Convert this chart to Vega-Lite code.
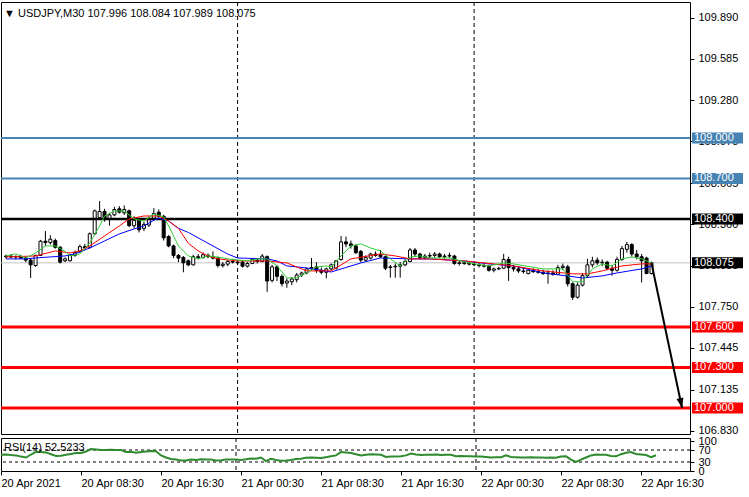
{
"$schema":"https://vega.github.io/schema/vega-lite/v6.json",
"background":"#ffffff",
"padding":{"left":0,"top":1,"right":0,"bottom":0},
"bounds":"flush",
"spacing":4,
"config":{
"view":{"stroke":"#000000","strokeWidth":1},
"axis":{"labelFont":"Liberation Sans","labelFontSize":11,"labelColor":"#000000","tickColor":"#000000","domain":false,"grid":false},
"title":{"font":"Liberation Sans","fontSize":11,"fontWeight":"normal","color":"#000000","anchor":"start","frame":"group"}
},
"datasets":{
"bars":[
{"t":"2021-04-20T00:30","o":108.120,"h":108.135,"l":108.105,"c":108.125,"r":54},
{"t":"2021-04-20T01:00","o":108.125,"h":108.140,"l":108.110,"c":108.118,"r":55},
{"t":"2021-04-20T01:30","o":108.118,"h":108.130,"l":108.100,"c":108.122,"r":53},
{"t":"2021-04-20T02:00","o":108.122,"h":108.135,"l":108.105,"c":108.110,"r":52},
{"t":"2021-04-20T02:30","o":108.110,"h":108.120,"l":108.080,"c":108.095,"r":48},
{"t":"2021-04-20T03:00","o":108.095,"h":108.105,"l":107.963,"c":108.060,"r":45},
{"t":"2021-04-20T03:30","o":108.055,"h":108.135,"l":108.045,"c":108.130,"r":55},
{"t":"2021-04-20T04:00","o":108.130,"h":108.245,"l":108.125,"c":108.235,"r":64},
{"t":"2021-04-20T04:30","o":108.235,"h":108.310,"l":108.200,"c":108.225,"r":63},
{"t":"2021-04-20T05:00","o":108.225,"h":108.280,"l":108.210,"c":108.250,"r":62},
{"t":"2021-04-20T05:30","o":108.240,"h":108.255,"l":108.180,"c":108.190,"r":56},
{"t":"2021-04-20T06:00","o":108.190,"h":108.200,"l":108.070,"c":108.080,"r":50},
{"t":"2021-04-20T06:30","o":108.090,"h":108.115,"l":108.080,"c":108.105,"r":51},
{"t":"2021-04-20T07:00","o":108.090,"h":108.140,"l":108.085,"c":108.130,"r":54},
{"t":"2021-04-20T07:30","o":108.130,"h":108.165,"l":108.120,"c":108.150,"r":57},
{"t":"2021-04-20T08:00","o":108.160,"h":108.210,"l":108.150,"c":108.195,"r":60},
{"t":"2021-04-20T08:30","o":108.195,"h":108.215,"l":108.175,"c":108.185,"r":60},
{"t":"2021-04-20T09:00","o":108.190,"h":108.300,"l":108.180,"c":108.290,"r":65},
{"t":"2021-04-20T09:30","o":108.290,"h":108.470,"l":108.280,"c":108.460,"r":73},
{"t":"2021-04-20T10:00","o":108.410,"h":108.533,"l":108.400,"c":108.455,"r":72},
{"t":"2021-04-20T10:30","o":108.455,"h":108.475,"l":108.380,"c":108.400,"r":70},
{"t":"2021-04-20T11:00","o":108.395,"h":108.445,"l":108.350,"c":108.430,"r":70},
{"t":"2021-04-20T11:30","o":108.430,"h":108.490,"l":108.420,"c":108.470,"r":71},
{"t":"2021-04-20T12:00","o":108.475,"h":108.495,"l":108.440,"c":108.450,"r":70},
{"t":"2021-04-20T12:30","o":108.445,"h":108.500,"l":108.430,"c":108.470,"r":70},
{"t":"2021-04-20T13:00","o":108.460,"h":108.470,"l":108.340,"c":108.350,"r":63},
{"t":"2021-04-20T13:30","o":108.350,"h":108.420,"l":108.330,"c":108.390,"r":64},
{"t":"2021-04-20T14:00","o":108.400,"h":108.410,"l":108.300,"c":108.320,"r":61},
{"t":"2021-04-20T14:30","o":108.330,"h":108.380,"l":108.310,"c":108.360,"r":63},
{"t":"2021-04-20T15:00","o":108.355,"h":108.420,"l":108.340,"c":108.400,"r":65},
{"t":"2021-04-20T15:30","o":108.400,"h":108.480,"l":108.390,"c":108.440,"r":67},
{"t":"2021-04-20T16:00","o":108.450,"h":108.470,"l":108.400,"c":108.420,"r":66},
{"t":"2021-04-20T16:30","o":108.420,"h":108.430,"l":108.240,"c":108.260,"r":52},
{"t":"2021-04-20T17:00","o":108.270,"h":108.280,"l":108.190,"c":108.200,"r":45},
{"t":"2021-04-20T17:30","o":108.200,"h":108.210,"l":108.110,"c":108.130,"r":40},
{"t":"2021-04-20T18:00","o":108.130,"h":108.140,"l":108.080,"c":108.110,"r":38},
{"t":"2021-04-20T18:30","o":108.115,"h":108.125,"l":108.005,"c":108.075,"r":35},
{"t":"2021-04-20T19:00","o":108.090,"h":108.100,"l":108.050,"c":108.060,"r":35},
{"t":"2021-04-20T19:30","o":108.060,"h":108.135,"l":108.055,"c":108.120,"r":38},
{"t":"2021-04-20T20:00","o":108.120,"h":108.140,"l":108.100,"c":108.115,"r":37},
{"t":"2021-04-20T20:30","o":108.115,"h":108.150,"l":108.105,"c":108.135,"r":39},
{"t":"2021-04-20T21:00","o":108.130,"h":108.145,"l":108.110,"c":108.120,"r":38},
{"t":"2021-04-20T21:30","o":108.120,"h":108.160,"l":108.100,"c":108.110,"r":38},
{"t":"2021-04-20T22:00","o":108.110,"h":108.120,"l":108.040,"c":108.055,"r":35},
{"t":"2021-04-20T22:30","o":108.055,"h":108.080,"l":108.040,"c":108.065,"r":36},
{"t":"2021-04-20T23:00","o":108.065,"h":108.095,"l":108.050,"c":108.085,"r":38},
{"t":"2021-04-20T23:30","o":108.085,"h":108.100,"l":108.070,"c":108.080,"r":38},
{"t":"2021-04-21T00:00","o":108.080,"h":108.095,"l":108.060,"c":108.075,"r":38},
{"t":"2021-04-21T00:30","o":108.080,"h":108.095,"l":108.040,"c":108.050,"r":37},
{"t":"2021-04-21T01:00","o":108.050,"h":108.080,"l":108.040,"c":108.070,"r":39},
{"t":"2021-04-21T01:30","o":108.070,"h":108.110,"l":108.065,"c":108.100,"r":42},
{"t":"2021-04-21T02:00","o":108.095,"h":108.110,"l":108.070,"c":108.085,"r":41},
{"t":"2021-04-21T02:30","o":108.085,"h":108.140,"l":108.080,"c":108.125,"r":45},
{"t":"2021-04-21T03:00","o":108.120,"h":108.130,"l":107.860,"c":107.940,"r":33},
{"t":"2021-04-21T03:30","o":107.945,"h":108.060,"l":107.930,"c":108.045,"r":41},
{"t":"2021-04-21T04:00","o":108.045,"h":108.060,"l":107.940,"c":107.975,"r":37},
{"t":"2021-04-21T04:30","o":107.975,"h":107.990,"l":107.900,"c":107.920,"r":34},
{"t":"2021-04-21T05:00","o":107.925,"h":107.960,"l":107.890,"c":107.940,"r":35},
{"t":"2021-04-21T05:30","o":107.935,"h":107.970,"l":107.910,"c":107.955,"r":37},
{"t":"2021-04-21T06:00","o":107.950,"h":108.000,"l":107.930,"c":107.985,"r":40},
{"t":"2021-04-21T06:30","o":107.985,"h":108.010,"l":107.970,"c":108.000,"r":41},
{"t":"2021-04-21T07:00","o":108.000,"h":108.040,"l":107.990,"c":108.030,"r":44},
{"t":"2021-04-21T07:30","o":108.030,"h":108.110,"l":108.020,"c":108.040,"r":45},
{"t":"2021-04-21T08:00","o":108.045,"h":108.080,"l":108.000,"c":108.020,"r":44},
{"t":"2021-04-21T08:30","o":108.020,"h":108.040,"l":107.990,"c":108.005,"r":43},
{"t":"2021-04-21T09:00","o":108.005,"h":108.040,"l":107.960,"c":108.030,"r":46},
{"t":"2021-04-21T09:30","o":108.030,"h":108.070,"l":108.020,"c":108.060,"r":49},
{"t":"2021-04-21T10:00","o":108.035,"h":108.095,"l":108.025,"c":108.090,"r":52},
{"t":"2021-04-21T10:30","o":108.100,"h":108.274,"l":108.090,"c":108.230,"r":63},
{"t":"2021-04-21T11:00","o":108.230,"h":108.270,"l":108.190,"c":108.215,"r":62},
{"t":"2021-04-21T11:30","o":108.215,"h":108.240,"l":108.180,"c":108.200,"r":60},
{"t":"2021-04-21T12:00","o":108.200,"h":108.215,"l":108.140,"c":108.150,"r":56},
{"t":"2021-04-21T12:30","o":108.160,"h":108.170,"l":108.080,"c":108.095,"r":52},
{"t":"2021-04-21T13:00","o":108.095,"h":108.130,"l":108.085,"c":108.115,"r":54},
{"t":"2021-04-21T13:30","o":108.110,"h":108.150,"l":108.100,"c":108.140,"r":56},
{"t":"2021-04-21T14:00","o":108.140,"h":108.160,"l":108.120,"c":108.130,"r":55},
{"t":"2021-04-21T14:30","o":108.135,"h":108.170,"l":108.110,"c":108.120,"r":54},
{"t":"2021-04-21T15:00","o":108.120,"h":108.130,"l":108.020,"c":108.035,"r":47},
{"t":"2021-04-21T15:30","o":108.040,"h":108.060,"l":107.965,"c":108.045,"r":48},
{"t":"2021-04-21T16:00","o":108.045,"h":108.070,"l":107.965,"c":108.050,"r":48},
{"t":"2021-04-21T16:30","o":108.050,"h":108.080,"l":107.965,"c":108.060,"r":49},
{"t":"2021-04-21T17:00","o":108.060,"h":108.100,"l":108.050,"c":108.085,"r":52},
{"t":"2021-04-21T17:30","o":108.085,"h":108.185,"l":108.080,"c":108.170,"r":58},
{"t":"2021-04-21T18:00","o":108.170,"h":108.185,"l":108.120,"c":108.140,"r":55},
{"t":"2021-04-21T18:30","o":108.140,"h":108.150,"l":108.100,"c":108.115,"r":53},
{"t":"2021-04-21T19:00","o":108.115,"h":108.140,"l":108.100,"c":108.125,"r":54},
{"t":"2021-04-21T19:30","o":108.125,"h":108.150,"l":108.110,"c":108.130,"r":54},
{"t":"2021-04-21T20:00","o":108.130,"h":108.155,"l":108.115,"c":108.140,"r":55},
{"t":"2021-04-21T20:30","o":108.140,"h":108.150,"l":108.110,"c":108.120,"r":53},
{"t":"2021-04-21T21:00","o":108.120,"h":108.140,"l":108.105,"c":108.125,"r":54},
{"t":"2021-04-21T21:30","o":108.125,"h":108.150,"l":108.110,"c":108.130,"r":54},
{"t":"2021-04-21T22:00","o":108.125,"h":108.135,"l":108.060,"c":108.070,"r":49},
{"t":"2021-04-21T22:30","o":108.070,"h":108.090,"l":108.055,"c":108.075,"r":50},
{"t":"2021-04-21T23:00","o":108.075,"h":108.090,"l":108.060,"c":108.070,"r":49},
{"t":"2021-04-21T23:30","o":108.070,"h":108.085,"l":108.055,"c":108.065,"r":49},
{"t":"2021-04-22T00:00","o":108.065,"h":108.080,"l":108.050,"c":108.060,"r":48},
{"t":"2021-04-22T00:30","o":108.060,"h":108.075,"l":108.040,"c":108.055,"r":48},
{"t":"2021-04-22T01:00","o":108.055,"h":108.070,"l":108.040,"c":108.050,"r":47},
{"t":"2021-04-22T01:30","o":108.050,"h":108.060,"l":108.010,"c":108.020,"r":45},
{"t":"2021-04-22T02:00","o":108.020,"h":108.040,"l":108.005,"c":108.030,"r":46},
{"t":"2021-04-22T02:30","o":108.030,"h":108.045,"l":108.020,"c":108.035,"r":46},
{"t":"2021-04-22T03:00","o":108.035,"h":108.141,"l":108.030,"c":108.100,"r":52},
{"t":"2021-04-22T03:30","o":108.100,"h":108.120,"l":107.941,"c":108.040,"r":47},
{"t":"2021-04-22T04:00","o":108.040,"h":108.060,"l":108.010,"c":108.030,"r":46},
{"t":"2021-04-22T04:30","o":108.030,"h":108.050,"l":108.000,"c":108.015,"r":45},
{"t":"2021-04-22T05:00","o":108.015,"h":108.040,"l":107.995,"c":108.010,"r":45},
{"t":"2021-04-22T05:30","o":107.995,"h":108.030,"l":107.990,"c":108.020,"r":46},
{"t":"2021-04-22T06:00","o":108.020,"h":108.035,"l":108.000,"c":108.010,"r":45},
{"t":"2021-04-22T06:30","o":108.010,"h":108.030,"l":107.995,"c":108.005,"r":45},
{"t":"2021-04-22T07:00","o":108.005,"h":108.025,"l":107.985,"c":107.995,"r":44},
{"t":"2021-04-22T07:30","o":107.995,"h":108.020,"l":107.920,"c":108.000,"r":45},
{"t":"2021-04-22T08:00","o":108.000,"h":108.020,"l":107.980,"c":107.990,"r":44},
{"t":"2021-04-22T08:30","o":107.990,"h":108.060,"l":107.985,"c":108.040,"r":48},
{"t":"2021-04-22T09:00","o":108.040,"h":108.070,"l":108.020,"c":108.050,"r":49},
{"t":"2021-04-22T09:30","o":108.045,"h":108.060,"l":107.900,"c":107.920,"r":38},
{"t":"2021-04-22T10:00","o":107.920,"h":107.930,"l":107.800,"c":107.820,"r":30},
{"t":"2021-04-22T10:30","o":107.820,"h":107.930,"l":107.810,"c":107.910,"r":38},
{"t":"2021-04-22T11:00","o":107.910,"h":108.000,"l":107.900,"c":107.980,"r":45},
{"t":"2021-04-22T11:30","o":107.980,"h":108.105,"l":107.970,"c":108.060,"r":52},
{"t":"2021-04-22T12:00","o":108.060,"h":108.120,"l":108.040,"c":108.090,"r":55},
{"t":"2021-04-22T12:30","o":108.095,"h":108.115,"l":108.060,"c":108.075,"r":54},
{"t":"2021-04-22T13:00","o":108.075,"h":108.100,"l":108.050,"c":108.080,"r":54},
{"t":"2021-04-22T13:30","o":108.080,"h":108.090,"l":108.020,"c":108.035,"r":50},
{"t":"2021-04-22T14:00","o":108.035,"h":108.060,"l":107.980,"c":108.020,"r":49},
{"t":"2021-04-22T14:30","o":108.020,"h":108.120,"l":108.010,"c":108.100,"r":56},
{"t":"2021-04-22T15:00","o":108.100,"h":108.200,"l":108.090,"c":108.180,"r":61},
{"t":"2021-04-22T15:30","o":108.175,"h":108.230,"l":108.150,"c":108.210,"r":63},
{"t":"2021-04-22T16:00","o":108.210,"h":108.220,"l":108.120,"c":108.140,"r":57},
{"t":"2021-04-22T16:30","o":108.140,"h":108.170,"l":108.100,"c":108.120,"r":55},
{"t":"2021-04-22T17:00","o":108.120,"h":108.140,"l":107.930,"c":108.090,"r":53},
{"t":"2021-04-22T17:30","o":108.110,"h":108.120,"l":107.990,"c":107.996,"r":46},
{"t":"2021-04-22T18:00","o":107.996,"h":108.084,"l":107.989,"c":108.075,"r":52.5233}
],
"ma":[
{"t":"2021-04-20T00:30","s":"slow","v":108.104},{"t":"2021-04-20T02:30","s":"slow","v":108.104},{"t":"2021-04-20T03:30","s":"slow","v":108.111},{"t":"2021-04-20T06:30","s":"slow","v":108.126},{"t":"2021-04-20T07:30","s":"slow","v":108.141},{"t":"2021-04-20T09:00","s":"slow","v":108.185},{"t":"2021-04-20T10:30","s":"slow","v":108.237},{"t":"2021-04-20T12:00","s":"slow","v":108.289},{"t":"2021-04-20T13:30","s":"slow","v":108.326},{"t":"2021-04-20T14:30","s":"slow","v":108.348},{"t":"2021-04-20T15:30","s":"slow","v":108.390},{"t":"2021-04-20T16:00","s":"slow","v":108.405},{"t":"2021-04-20T17:00","s":"slow","v":108.385},{"t":"2021-04-20T18:00","s":"slow","v":108.330},{"t":"2021-04-20T19:00","s":"slow","v":108.300},{"t":"2021-04-20T21:00","s":"slow","v":108.220},{"t":"2021-04-20T23:00","s":"slow","v":108.140},{"t":"2021-04-21T00:00","s":"slow","v":108.111},{"t":"2021-04-21T03:00","s":"slow","v":108.104},{"t":"2021-04-21T04:00","s":"slow","v":108.089},{"t":"2021-04-21T05:00","s":"slow","v":108.052},{"t":"2021-04-21T07:00","s":"slow","v":108.037},{"t":"2021-04-21T09:30","s":"slow","v":108.007},{"t":"2021-04-21T12:30","s":"slow","v":108.074},{"t":"2021-04-21T14:30","s":"slow","v":108.111},{"t":"2021-04-21T17:30","s":"slow","v":108.104},{"t":"2021-04-21T19:30","s":"slow","v":108.104},{"t":"2021-04-21T23:00","s":"slow","v":108.089},{"t":"2021-04-22T01:30","s":"slow","v":108.067},{"t":"2021-04-22T04:00","s":"slow","v":108.052},{"t":"2021-04-22T07:00","s":"slow","v":108.000},{"t":"2021-04-22T11:00","s":"slow","v":107.963},{"t":"2021-04-22T13:00","s":"slow","v":107.978},{"t":"2021-04-22T14:30","s":"slow","v":108.000},{"t":"2021-04-22T17:00","s":"slow","v":108.030},{"t":"2021-04-22T18:00","s":"slow","v":108.052},
{"t":"2021-04-20T00:30","s":"mid","v":108.118},{"t":"2021-04-20T03:30","s":"mid","v":108.126},{"t":"2021-04-20T05:30","s":"mid","v":108.163},{"t":"2021-04-20T07:00","s":"mid","v":108.148},{"t":"2021-04-20T08:00","s":"mid","v":108.163},{"t":"2021-04-20T09:00","s":"mid","v":108.200},{"t":"2021-04-20T10:30","s":"mid","v":108.274},{"t":"2021-04-20T12:00","s":"mid","v":108.348},{"t":"2021-04-20T13:00","s":"mid","v":108.400},{"t":"2021-04-20T14:30","s":"mid","v":108.422},{"t":"2021-04-20T16:00","s":"mid","v":108.422},{"t":"2021-04-20T17:00","s":"mid","v":108.385},{"t":"2021-04-20T18:00","s":"mid","v":108.330},{"t":"2021-04-20T19:00","s":"mid","v":108.220},{"t":"2021-04-20T20:00","s":"mid","v":108.163},{"t":"2021-04-20T21:00","s":"mid","v":108.126},{"t":"2021-04-20T22:00","s":"mid","v":108.104},{"t":"2021-04-21T00:00","s":"mid","v":108.089},{"t":"2021-04-21T03:00","s":"mid","v":108.089},{"t":"2021-04-21T05:00","s":"mid","v":108.074},{"t":"2021-04-21T07:00","s":"mid","v":108.015},{"t":"2021-04-21T09:30","s":"mid","v":108.015},{"t":"2021-04-21T11:30","s":"mid","v":108.104},{"t":"2021-04-21T14:30","s":"mid","v":108.141},{"t":"2021-04-21T16:00","s":"mid","v":108.126},{"t":"2021-04-21T17:30","s":"mid","v":108.104},{"t":"2021-04-21T19:30","s":"mid","v":108.104},{"t":"2021-04-21T23:00","s":"mid","v":108.089},{"t":"2021-04-22T02:00","s":"mid","v":108.067},{"t":"2021-04-22T04:00","s":"mid","v":108.052},{"t":"2021-04-22T07:00","s":"mid","v":108.015},{"t":"2021-04-22T10:00","s":"mid","v":107.993},{"t":"2021-04-22T11:30","s":"mid","v":107.993},{"t":"2021-04-22T13:00","s":"mid","v":108.015},{"t":"2021-04-22T15:00","s":"mid","v":108.052},{"t":"2021-04-22T17:00","s":"mid","v":108.067},{"t":"2021-04-22T18:00","s":"mid","v":108.067},
{"t":"2021-04-20T00:30","s":"fast","v":108.126},{"t":"2021-04-20T01:30","s":"fast","v":108.141},{"t":"2021-04-20T02:30","s":"fast","v":108.111},{"t":"2021-04-20T03:30","s":"fast","v":108.148},{"t":"2021-04-20T04:30","s":"fast","v":108.200},{"t":"2021-04-20T05:30","s":"fast","v":108.200},{"t":"2021-04-20T06:30","s":"fast","v":108.160},{"t":"2021-04-20T07:00","s":"fast","v":108.126},{"t":"2021-04-20T08:00","s":"fast","v":108.141},{"t":"2021-04-20T09:00","s":"fast","v":108.222},{"t":"2021-04-20T10:00","s":"fast","v":108.348},{"t":"2021-04-20T10:30","s":"fast","v":108.422},{"t":"2021-04-20T11:30","s":"fast","v":108.459},{"t":"2021-04-20T12:30","s":"fast","v":108.459},{"t":"2021-04-20T13:30","s":"fast","v":108.400},{"t":"2021-04-20T14:30","s":"fast","v":108.385},{"t":"2021-04-20T15:30","s":"fast","v":108.437},{"t":"2021-04-20T16:30","s":"fast","v":108.415},{"t":"2021-04-20T17:00","s":"fast","v":108.348},{"t":"2021-04-20T18:00","s":"fast","v":108.200},{"t":"2021-04-20T19:00","s":"fast","v":108.126},{"t":"2021-04-20T20:00","s":"fast","v":108.104},{"t":"2021-04-20T21:00","s":"fast","v":108.126},{"t":"2021-04-20T22:00","s":"fast","v":108.118},{"t":"2021-04-20T23:00","s":"fast","v":108.104},{"t":"2021-04-21T01:00","s":"fast","v":108.089},{"t":"2021-04-21T02:00","s":"fast","v":108.104},{"t":"2021-04-21T03:00","s":"fast","v":108.104},{"t":"2021-04-21T04:00","s":"fast","v":108.052},{"t":"2021-04-21T05:00","s":"fast","v":107.963},{"t":"2021-04-21T06:00","s":"fast","v":107.963},{"t":"2021-04-21T07:00","s":"fast","v":108.000},{"t":"2021-04-21T08:00","s":"fast","v":108.044},{"t":"2021-04-21T09:00","s":"fast","v":108.052},{"t":"2021-04-21T09:30","s":"fast","v":108.044},{"t":"2021-04-21T10:30","s":"fast","v":108.126},{"t":"2021-04-21T11:30","s":"fast","v":108.200},{"t":"2021-04-21T12:30","s":"fast","v":108.215},{"t":"2021-04-21T13:30","s":"fast","v":108.185},{"t":"2021-04-21T14:30","s":"fast","v":108.163},{"t":"2021-04-21T15:30","s":"fast","v":108.104},{"t":"2021-04-21T16:30","s":"fast","v":108.052},{"t":"2021-04-21T17:30","s":"fast","v":108.118},{"t":"2021-04-21T18:30","s":"fast","v":108.126},{"t":"2021-04-21T19:30","s":"fast","v":108.111},{"t":"2021-04-21T21:30","s":"fast","v":108.111},{"t":"2021-04-21T23:30","s":"fast","v":108.074},{"t":"2021-04-22T01:30","s":"fast","v":108.052},{"t":"2021-04-22T03:00","s":"fast","v":108.074},{"t":"2021-04-22T04:00","s":"fast","v":108.067},{"t":"2021-04-22T07:00","s":"fast","v":108.030},{"t":"2021-04-22T09:00","s":"fast","v":108.030},{"t":"2021-04-22T10:00","s":"fast","v":107.935},{"t":"2021-04-22T11:00","s":"fast","v":107.935},{"t":"2021-04-22T12:00","s":"fast","v":108.030},{"t":"2021-04-22T13:00","s":"fast","v":108.067},{"t":"2021-04-22T14:00","s":"fast","v":108.052},{"t":"2021-04-22T15:00","s":"fast","v":108.104},{"t":"2021-04-22T16:00","s":"fast","v":108.118},{"t":"2021-04-22T17:00","s":"fast","v":108.104},{"t":"2021-04-22T18:00","s":"fast","v":108.074}
],
"levels":[{"v":109.0,"k":"res"},{"v":108.7,"k":"res"},{"v":108.4,"k":"pivot"},{"v":107.6,"k":"sup"},{"v":107.3,"k":"sup"},{"v":107.0,"k":"sup"}],
"tags":[{"v":109.0,"k":"res"},{"v":108.7,"k":"res"},{"v":108.4,"k":"pivot"},{"v":108.075,"k":"bid"},{"v":107.6,"k":"sup"},{"v":107.3,"k":"sup"},{"v":107.0,"k":"sup"}],
"bid":[{"v":108.075}],
"seps":[{"t":"2021-04-21T00:00"},{"t":"2021-04-22T00:00"}],
"arrow":[{"t":"2021-04-22T18:00","v":108.072},{"t":"2021-04-22T21:06","v":107.0}],
"head":[{"t":"2021-04-22T21:06","v":107.0}],
"rsilev":[{"v":70},{"v":30}]
},
"vconcat":[
{
"width":689,"height":432,
"title":{"text":"▼ USDJPY,M30  107.996 108.084 107.989 108.075","offset":-17,"dx":3},
"encoding":{
 "x":{"field":"t","type":"temporal","axis":null,"scale":{"domain":[{"year":2021,"month":4,"date":20,"hours":0,"minutes":30},{"year":2021,"month":4,"date":22,"hours":21,"minutes":24}]}},
 "y":{"field":"v","type":"quantitative","scale":{"domain":[106.807,110.007],"zero":false,"nice":false},"axis":{"title":null,"orient":"right","values":[106.83,107.135,107.445,107.75,108.055,108.36,108.665,108.975,109.28,109.585,109.89],"format":".3f","tickSize":4,"labelPadding":4,"labelOverlap":false}}
},
"layer":[
{"data":{"name":"seps"},"mark":{"type":"rule","color":"#000000","strokeDash":[4,3],"strokeWidth":1,"clip":true},
 "encoding":{"y":null}},
{"data":{"name":"bid"},"mark":{"type":"rule","color":"#c0c0c0","strokeWidth":1,"clip":true},
 "encoding":{"x":null}},
{"data":{"name":"bars"},"mark":{"type":"rule","color":"#000000","strokeWidth":1,"clip":true},
 "encoding":{"y":{"field":"l","type":"quantitative"},"y2":{"field":"h"}}},
{"data":{"name":"bars"},"mark":{"type":"bar","width":3,"stroke":"#000000","strokeWidth":1,"clip":true},
 "encoding":{"y":{"field":"o","type":"quantitative"},"y2":{"field":"c"},
 "fill":{"condition":{"test":"datum.c >= datum.o","value":"#ffffff"},"value":"#000000"}}},
{"data":{"name":"levels"},"mark":{"type":"rule","clip":true},
 "encoding":{"x":null,
 "color":{"field":"k","type":"nominal","legend":null,"scale":{"domain":["fast","mid","slow","res","pivot","sup","bid"],"range":["#32cd32","#ff0000","#0000ff","#4682b4","#000000","#ff0000","#000000"]}},
 "strokeWidth":{"field":"k","type":"nominal","legend":null,"scale":{"domain":["res","pivot","sup"],"range":[2,3,2]}}}},
{"data":{"name":"ma"},"mark":{"type":"line","strokeWidth":1,"clip":true},
 "encoding":{"color":{"field":"s","type":"nominal","legend":null}}},
{"data":{"name":"arrow"},"mark":{"type":"line","color":"#000000","strokeWidth":2}},
{"data":{"name":"head"},"mark":{"type":"point","shape":"M 0 0 L -0.35 -1 L 0.35 -1 Z","filled":true,"color":"#000000","size":400,"angle":348,"opacity":1}},
{"data":{"name":"tags"},"mark":{"type":"rule","strokeWidth":11,"xOffset":2,"x2Offset":53},
 "encoding":{"x":{"value":"width"},"x2":{"value":"width"},"color":{"field":"k","type":"nominal","legend":null}}},
{"data":{"name":"tags"},"mark":{"type":"text","align":"left","baseline":"middle","dx":4,"color":"#ffffff","font":"Liberation Sans","fontSize":11},
 "encoding":{"x":{"value":"width"},"text":{"field":"v","type":"quantitative","format":".3f"}}}
]
},
{
"width":689,"height":33,
"title":{"text":"RSI(14) 52.5233","offset":-18,"dx":3},
"encoding":{
 "x":{"field":"t","type":"temporal","scale":{"domain":[{"year":2021,"month":4,"date":20,"hours":0,"minutes":30},{"year":2021,"month":4,"date":22,"hours":21,"minutes":24}]},
 "axis":{"title":null,"values":[{"year":2021,"month":4,"date":20,"hours":0,"minutes":30},{"year":2021,"month":4,"date":20,"hours":8,"minutes":30},{"year":2021,"month":4,"date":20,"hours":16,"minutes":30},{"year":2021,"month":4,"date":21,"hours":0,"minutes":30},{"year":2021,"month":4,"date":21,"hours":8,"minutes":30},{"year":2021,"month":4,"date":21,"hours":16,"minutes":30},{"year":2021,"month":4,"date":22,"hours":0,"minutes":30},{"year":2021,"month":4,"date":22,"hours":8,"minutes":30},{"year":2021,"month":4,"date":22,"hours":16,"minutes":30}],
 "labelExpr":"datum.index == 0 ? '20 Apr 2021' : timeFormat(datum.value, '%d %b %H:%M')","labelAlign":"left","labelFlush":false,"labelOverlap":false,"tickSize":4,"labelPadding":2}},
 "y":{"field":"v","type":"quantitative","scale":{"domain":[0,110],"nice":false},"axis":{"title":null,"orient":"right","values":[0,30,70,100],"tickSize":4,"labelPadding":4,"labelOverlap":false}}
},
"layer":[
{"data":{"name":"seps"},"mark":{"type":"rule","color":"#000000","strokeDash":[4,3],"strokeWidth":1,"clip":true},"encoding":{"y":null}},
{"data":{"name":"rsilev"},"mark":{"type":"rule","color":"#000000","strokeDash":[3,3],"strokeWidth":1,"clip":true},"encoding":{"x":null}},
{"data":{"name":"bars"},"mark":{"type":"line","color":"#2e8b2e","strokeWidth":2,"clip":true},
 "encoding":{"y":{"field":"r","type":"quantitative"}}}
]
}
]
}
